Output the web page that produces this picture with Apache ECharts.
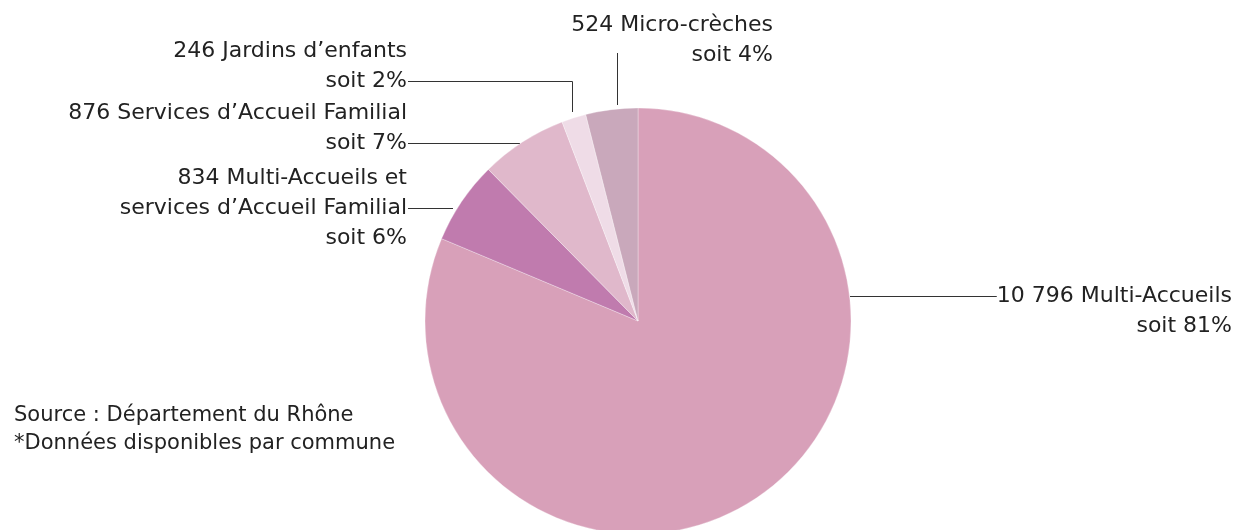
<!DOCTYPE html>
<html>
<head>
<meta charset="utf-8">
<script src="https://cdn.jsdelivr.net/npm/echarts@6/dist/echarts.min.js"></script>
<style>
html,body{margin:0;padding:0;background:#fff;}
#chart{width:1235px;height:530px;}
</style>
</head>
<body>
<div id="chart"></div>
<script>
var categories = ['Multi-Accueils', 'Multi-Accueils et\nservices d\u2019Accueil Familial', 'Services d\u2019Accueil Familial', 'Jardins d\u2019enfants', 'Micro-cr\u00e8ches'];
var valueLabels = ['10 796', '834', '876', '246', '524'];
var values = [10796, 834, 876, 246, 524];
var percents = ['81%', '6%', '7%', '2%', '4%'];
var colors = ['#d8a0b9', '#c07bae', '#e0b8cb', '#efdce7', '#c9a8bb'];
var sourceLines = ['Source : D\u00e9partement du Rh\u00f4ne', '*Donn\u00e9es disponibles par commune'];

var FONT = 'DejaVu Sans';
var FS = 22;

var chart = echarts.init(document.getElementById('chart'), null, {renderer: 'canvas'});

var layouts = [
  {x: 1232, y: 311, align: 'right'},
  {x: 407, y: 208, align: 'right'},
  {x: 407, y: 128.5, align: 'right'},
  {x: 407, y: 66.5, align: 'right'},
  {x: 773, y: 40, align: 'right'}
];

var option = {
  animation: false,
  backgroundColor: '#ffffff',
  title: {
    text: sourceLines.join('\n'),
    left: 9,
    top: 397,
    textStyle: {fontFamily: FONT, fontSize: 21, fontWeight: 'normal', color: '#222', lineHeight: 28}
  },
  series: [{
    type: 'pie',
    center: [638, 321],
    radius: 213,
    startAngle: 90,
    clockwise: true,
    silent: true,
    itemStyle: {borderColor: 'rgba(255,255,255,0.6)', borderWidth: 0.5},
    label: {
      show: true,
      position: 'outside',
      fontFamily: FONT,
      fontSize: FS,
      color: '#222',
      lineHeight: 30,
      formatter: function (p) {
        return valueLabels[p.dataIndex] + ' ' + categories[p.dataIndex] + '\nsoit ' + percents[p.dataIndex];
      }
    },
    labelLine: {show: true, lineStyle: {color: '#333', width: 1}},
    labelLayout: function (p) {
      var L = layouts[p.dataIndex];
      var w = p.labelRect.width;
      var pts;
      switch (p.dataIndex) {
        case 0: pts = [[850, 296.5], [920, 296.5], [1232 - w, 296.5]]; break;
        case 1: pts = [[453, 208.5], [430, 208.5], [408, 208.5]]; break;
        case 2: pts = [[520, 143.5], [460, 143.5], [408, 143.5]]; break;
        case 3: pts = [[572.5, 112], [572.5, 81.5], [408, 81.5]]; break;
        case 4: pts = [[617.5, 105], [617.5, 80], [617.5, 53]]; break;
      }
      return {x: L.x, y: L.y, align: L.align, verticalAlign: 'middle', labelLinePoints: pts};
    },
    data: values.map(function (v, i) {
      return {value: v, name: categories[i], itemStyle: {color: colors[i]}};
    })
  }]
};
chart.setOption(option);
</script>
</body>
</html>
